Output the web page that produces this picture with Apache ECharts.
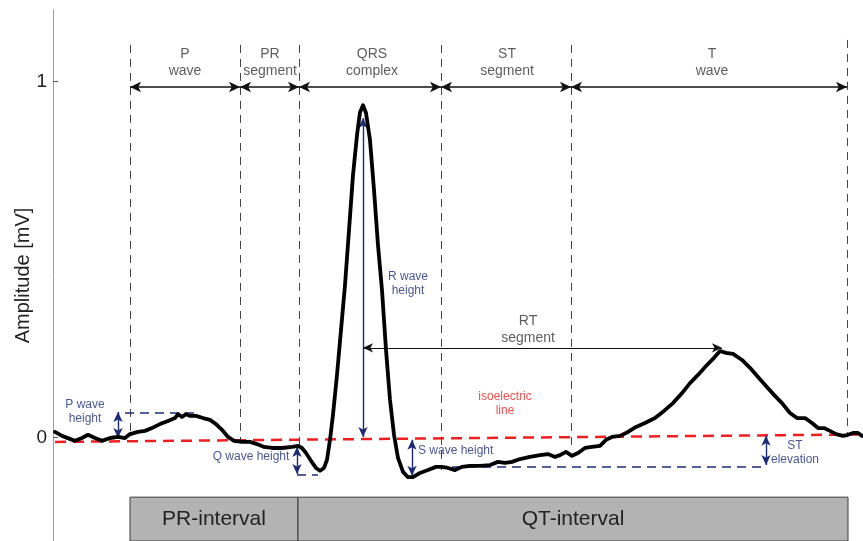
<!DOCTYPE html>
<html>
<head>
<meta charset="utf-8">
<script src="https://cdn.jsdelivr.net/npm/echarts@6/dist/echarts.min.js"></script>
<style>html,body{margin:0;padding:0;background:#fff}#c{width:863px;height:541px}</style>
</head>
<body>
<div id="c"></div>
<script>
// ECG trace (time in ms, amplitude in mV)
const ecgTime = [2,9,22,29,35,42,49,57,65,72,77,85,92,99,107,115,122,125,129,133,137,143,150,157,163,169,175,181,189,197,204,211,219,229,239,245,249,253,258,263,267,271,274,277,280,284,288,292,296,300,304,307,310,313,317,321,325,329,333,337,341,345,350,355,360,367,375,383,389,395,402,409,417,427,437,445,452,459,467,477,487,495,502,507,513,519,525,532,539,547,553,559,567,575,583,592,602,611,620,629,637,645,653,661,667,673,680,689,697,705,713,721,729,737,744,752,759,765,771,777,783,790,795,800,805,809];
const ecgAmp = [0.016,0.005,-0.009,-0.001,0.008,-0.001,-0.009,-0.001,0.002,-0.001,0.010,0.016,0.019,0.027,0.038,0.047,0.055,0.066,0.058,0.066,0.061,0.061,0.055,0.050,0.038,0.022,0.002,-0.009,-0.012,-0.012,-0.018,-0.026,-0.029,-0.029,-0.026,-0.023,-0.029,-0.043,-0.065,-0.085,-0.093,-0.085,-0.062,-0.006,0.064,0.176,0.302,0.428,0.582,0.737,0.849,0.913,0.933,0.911,0.835,0.695,0.540,0.414,0.246,0.106,0.008,-0.057,-0.096,-0.111,-0.111,-0.099,-0.091,-0.082,-0.082,-0.085,-0.091,-0.082,-0.079,-0.079,-0.077,-0.068,-0.071,-0.068,-0.060,-0.054,-0.049,-0.046,-0.054,-0.049,-0.040,-0.051,-0.043,-0.029,-0.026,-0.023,-0.006,0.002,0.005,0.016,0.030,0.041,0.055,0.075,0.097,0.125,0.153,0.176,0.201,0.224,0.243,0.238,0.235,0.218,0.196,0.170,0.145,0.120,0.097,0.069,0.055,0.055,0.041,0.027,0.027,0.019,0.010,0.005,0.008,0.013,0.013,0.005];

// isoelectric line
const isoTime = [2, 810];
const isoAmp = [-0.012, 0.009];

// phase boundaries and labels
const phaseBounds = [77, 187, 246, 388, 518, 794];
const boundTop = [1.102, 1.102, 1.102, 1.102, 1.102, 1.116];
const boundBottom = [0.016, -0.009, -0.026, -0.091, -0.029, 0.013];
const phaseArrowAmp = 0.984;
const phaseNames = ['P\nwave', 'PR\nsegment', 'QRS\ncomplex', 'ST\nsegment', 'T\nwave'];
const phaseLabelTime = [132, 217, 319, 454, 659];
const phaseLabelAmp = 1.052;

// intervals
const intervalNames = ['PR-interval', 'QT-interval'];
const intervalStart = [77, 245];
const intervalEnd = [245, 795];
const intervalTop = -0.167;
const intervalBottom = -0.29;

// measurement arrows (vertical): time, from, to
const measureNames = ['P wave height', 'Q wave height', 'R wave height', 'S wave height', 'ST elevation'];
const measureTime = [65, 244, 310, 359, 713];
const measureFrom = [-0.001, -0.026, 0.002, -0.006, 0.005];
const measureTo = [0.072, -0.102, 0.897, -0.107, -0.077];

// reference dashed levels: [startTime, endTime, amp]
const levelStart = [72, 244, 399];
const levelEnd = [147, 265, 713];
const levelAmp = [0.069, -0.104, -0.082];

// RT segment arrow
const rtStart = 310, rtEnd = 669, rtAmp = 0.252;

// annotation texts
const noteTexts = ['P wave\nheight', 'Q wave height', 'R wave\nheight', 'S wave height', 'ST\nelevation'];
const noteTime = [32, 198, 355, 365, 742];
const noteAmp = [0.072, -0.054, 0.431, -0.037, -0.043];
const rtText = 'RT\nsegment', rtTextTime = 475, rtTextAmp = 0.304;
const isoText = 'isoelectric\nline', isoTextTime = 452, isoTextAmp = 0.095;

// y ticks
const yTicks = [0, 1];

const FONT = 'Liberation Sans, Arial, sans-serif';
const NAVY = '#1c2a78';

const chart = echarts.init(document.getElementById('c'), null, {renderer: 'canvas'});

const ecgData = ecgTime.map((t, i) => [t, ecgAmp[i]]);
const isoData = isoTime.map((t, i) => [t, isoAmp[i]]);

const boundLines = phaseBounds.map((t, i) => [{coord: [t, boundTop[i]]}, {coord: [t, boundBottom[i]]}]);
const phaseArrows = phaseNames.map((n, i) => [{coord: [phaseBounds[i], phaseArrowAmp]}, {coord: [phaseBounds[i + 1], phaseArrowAmp]}]);
const measureArrows = measureTime.map((t, i) => [{coord: [t, measureFrom[i]]}, {coord: [t, measureTo[i]]}]);
const levelLines = levelAmp.map((a, i) => [{coord: [levelStart[i], a]}, {coord: [levelEnd[i], a]}]);

const hiddenPoint = [[0, 0]];

const option = {
  animation: false,
  textStyle: {fontFamily: FONT},
  grid: {left: 53, right: 0, top: 10, bottom: 0, containLabel: false, outerBoundsMode: 'none'},
  xAxis: {type: 'value', min: 0, max: 810, show: false},
  yAxis: {
    type: 'value', min: -0.29, max: 1.2,
    name: 'Amplitude [mV]', nameLocation: 'middle', nameGap: 20, nameMoveOverlap: false,
    nameTextStyle: {fontSize: 20, color: '#222', fontFamily: FONT},
    axisLine: {show: true, lineStyle: {color: '#9a9a9a', width: 1}},
    axisTick: {show: true, inside: true, length: 5, customValues: yTicks, lineStyle: {color: '#555'}},
    axisLabel: {show: true, customValues: yTicks, fontSize: 19, color: '#222', margin: 6, fontFamily: FONT},
    splitLine: {show: false}
  },
  series: [
    {
      type: 'line', data: hiddenPoint, showSymbol: false, lineStyle: {width: 0}, silent: true, z: 1,
      markArea: {
        silent: true,
        itemStyle: {color: '#b3b3b3', borderColor: '#3a3a3a', borderWidth: 1},
        label: {show: true, position: 'inside', fontSize: 21, color: '#222', fontFamily: FONT},
        data: intervalNames.map((n, i) => [{name: n, coord: [intervalStart[i], intervalTop]}, {coord: [intervalEnd[i], intervalBottom]}])
      },
      markLine: {
        silent: true, symbol: ['none', 'none'], label: {show: false},
        lineStyle: {color: '#444', width: 1, type: [8, 6]},
        data: boundLines
      }
    },
    {
      type: 'line', data: hiddenPoint, showSymbol: false, lineStyle: {width: 0}, silent: true, z: 2,
      markLine: {
        silent: true, symbol: ['arrow', 'arrow'], symbolSize: [8, 11], label: {show: false},
        lineStyle: {color: '#111', width: 1.5, type: 'solid'},
        data: phaseArrows
      }
    },
    {
      type: 'line', data: hiddenPoint, showSymbol: false, lineStyle: {width: 0}, silent: true, z: 2,
      markLine: {
        silent: true, symbol: ['none', 'none'], label: {show: false},
        lineStyle: {color: NAVY, width: 1.6, type: [9, 6]},
        data: levelLines
      }
    },
    {
      type: 'line', data: hiddenPoint, showSymbol: false, lineStyle: {width: 0}, silent: true, z: 3,
      markLine: {
        silent: true, symbol: ['arrow', 'arrow'], symbolSize: [7, 10], label: {show: false},
        lineStyle: {color: NAVY, width: 1.4, type: 'solid'},
        data: measureArrows
      }
    },
    {
      type: 'line', data: hiddenPoint, showSymbol: false, lineStyle: {width: 0}, silent: true, z: 3,
      markLine: {
        silent: true, symbol: ['arrow', 'arrow'], symbolSize: [7, 10], label: {show: false},
        lineStyle: {color: '#111', width: 1, type: 'solid'},
        data: [[{coord: [rtStart, rtAmp]}, {coord: [rtEnd, rtAmp]}]]
      }
    },
    {
      name: 'isoelectric', type: 'line', data: isoData, showSymbol: false, silent: true, z: 4,
      lineStyle: {color: '#f01e1e', width: 2.5, type: [11, 7]}
    },
    {
      name: 'ECG', type: 'line', data: ecgData, showSymbol: false, silent: true, z: 5,
      lineStyle: {color: '#000', width: 3.8, join: 'round', cap: 'round'}
    },
    {
      type: 'scatter', symbolSize: 0, silent: true, z: 6,
      label: {show: true, position: 'inside', formatter: p => p.name, fontSize: 14, lineHeight: 17, color: '#333', fontFamily: FONT},
      data: phaseNames.map((n, i) => ({name: n, value: [phaseLabelTime[i], phaseLabelAmp]}))
    },
    {
      type: 'scatter', symbolSize: 0, silent: true, z: 6,
      label: {show: true, position: 'inside', formatter: p => p.name, fontSize: 12, lineHeight: 14, color: NAVY, fontFamily: FONT},
      data: noteTexts.map((n, i) => ({
        name: n, value: [noteTime[i], noteAmp[i]],
        label: i === 3 ? {align: 'left'} : {}
      }))
    },
    {
      type: 'scatter', symbolSize: 0, silent: true, z: 6,
      label: {show: true, position: 'inside', formatter: p => p.name, fontSize: 14, lineHeight: 17, color: '#333', fontFamily: FONT},
      data: [{name: rtText, value: [rtTextTime, rtTextAmp]}]
    },
    {
      type: 'scatter', symbolSize: 0, silent: true, z: 6,
      label: {show: true, position: 'inside', formatter: p => p.name, fontSize: 12, lineHeight: 14, color: '#f01e1e', fontFamily: FONT},
      data: [{name: isoText, value: [isoTextTime, isoTextAmp]}]
    }
  ]
};
chart.setOption(option);
</script>
</body>
</html>
